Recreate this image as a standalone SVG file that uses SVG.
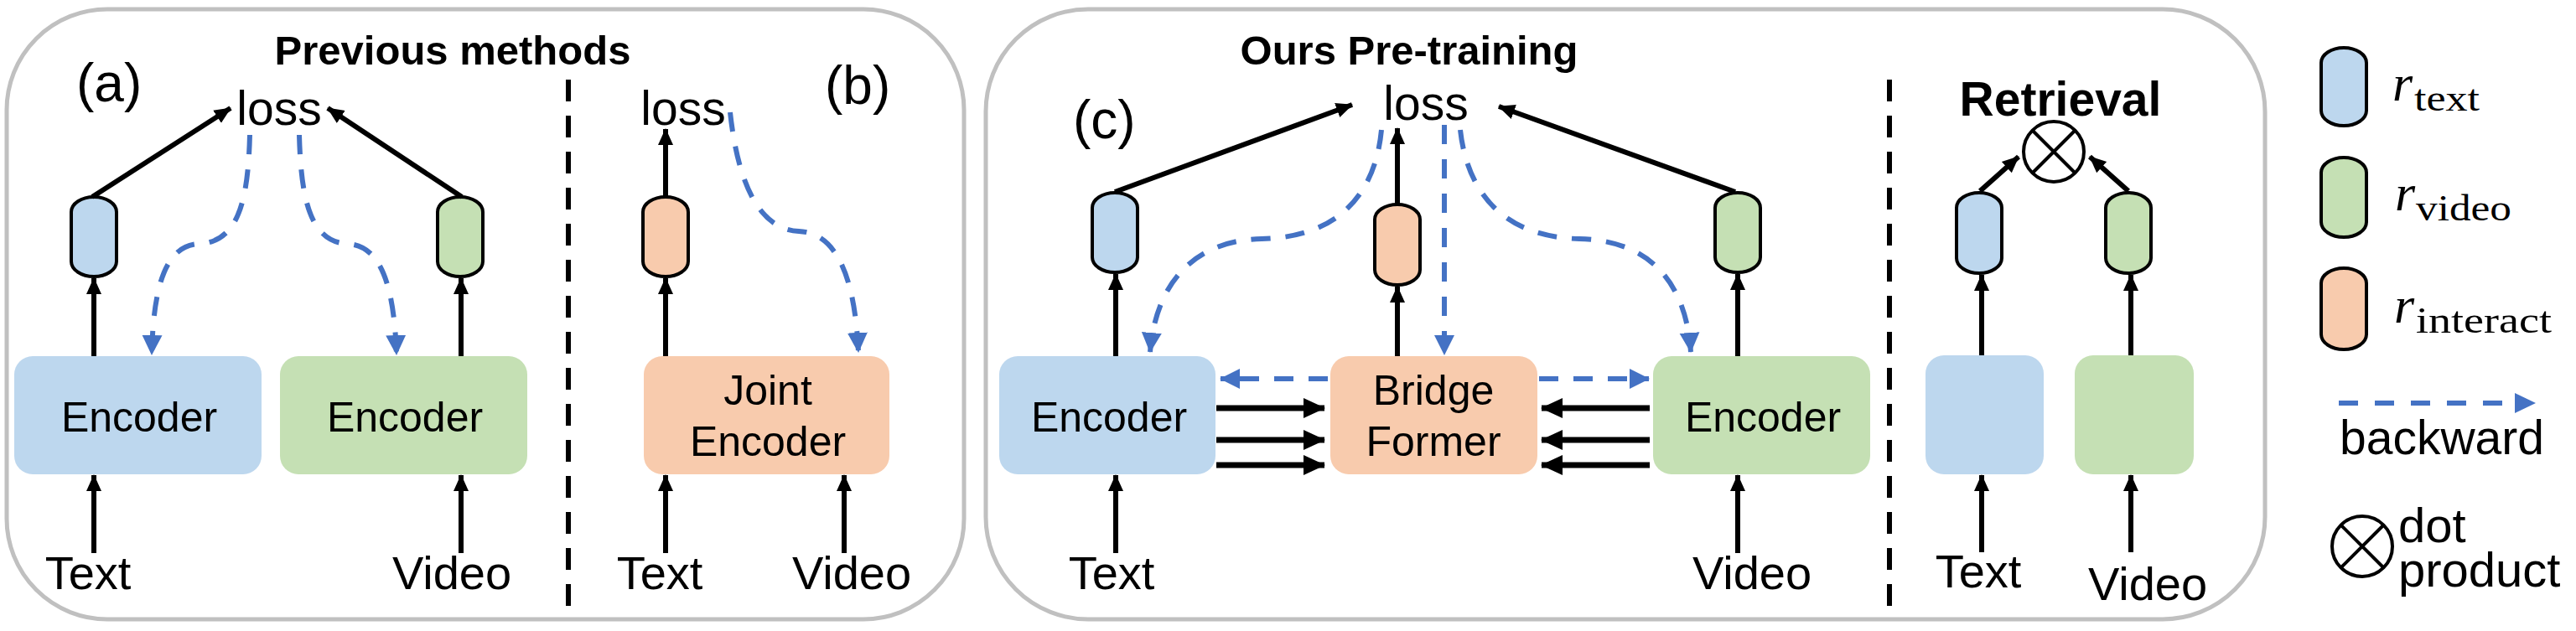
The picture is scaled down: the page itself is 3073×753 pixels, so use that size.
<svg xmlns="http://www.w3.org/2000/svg" width="3073" height="753" viewBox="0 0 3073 753">
<defs>
<marker id="ah" markerUnits="userSpaceOnUse" markerWidth="20" markerHeight="20" refX="19" refY="10" orient="auto"><path d="M0,1 L20,10 L0,19 z" fill="#000"/></marker>
<marker id="ahb" markerUnits="userSpaceOnUse" markerWidth="26" markerHeight="24" refX="25" refY="12" orient="auto"><path d="M0,0 L26,12 L0,24 z" fill="#000"/></marker>
<marker id="bh" markerUnits="userSpaceOnUse" markerWidth="24" markerHeight="26" refX="23" refY="13" orient="auto"><path d="M0,1 L24,13 L0,25 z" fill="#4472c4"/></marker>
</defs>
<style>
.frame{fill:#fff;stroke:#c0c0c0;stroke-width:5}
.bl{fill:#bdd7ee}.gr{fill:#c5e0b4}.or{fill:#f8cbad}
.cyl{stroke:#000;stroke-width:4}
.t{font-family:"Liberation Sans",Arial,sans-serif;fill:#000}
.lbl{font-size:50px;text-anchor:middle}
.io{font-size:56px;text-anchor:middle}
.loss{font-size:57px;text-anchor:middle}
.hd{font-size:49px;font-weight:bold;text-anchor:middle}
.tag{font-size:64px}
.ar{stroke:#000;stroke-width:6;fill:none;marker-end:url(#ah)}
.arb{stroke:#000;stroke-width:7;fill:none;marker-end:url(#ahb)}
.bk{stroke:#4472c4;stroke-width:6;fill:none;stroke-dasharray:23 18;marker-end:url(#bh)}
.div{stroke:#000;stroke-width:6;stroke-dasharray:26 17}
.ser{font-family:"Liberation Serif","DejaVu Serif",serif;fill:#000}
</style>
<rect class="frame" x="8" y="11" width="1142" height="728" rx="120"/>
<rect class="frame" x="1176" y="11" width="1526" height="728" rx="122"/>
<line class="div" x1="678" y1="95" x2="678" y2="737"/>
<line class="div" x1="2254" y1="95" x2="2254" y2="737"/>
<text class="t hd" x="540" y="77">Previous methods</text>
<text class="t hd" x="1681" y="77">Ours Pre-training</text>
<text class="t tag" x="91" y="121">(a)</text>
<text class="t tag" x="984" y="124">(b)</text>
<text class="t tag" x="1280" y="165">(c)</text>
<text class="t loss" x="333" y="149">loss</text>
<text class="t loss" x="815" y="149">loss</text>
<text class="t loss" x="1701" y="143">loss</text>
<text class="t" x="2458" y="138" style="font-size:57px;font-weight:bold;text-anchor:middle">Retrieval</text>

<g id="enc-a-text"><rect class="bl" x="17" y="425" width="295" height="141" rx="22"/><text class="t lbl" x="166" y="515">Encoder</text></g>
<g id="enc-a-video"><rect class="gr" x="334" y="425" width="295" height="141" rx="22"/><text class="t lbl" x="483" y="515">Encoder</text></g>
<g id="joint"><rect class="or" x="768" y="425" width="293" height="141" rx="22"/><text class="t lbl" x="916" y="483">Joint</text><text class="t lbl" x="916" y="544">Encoder</text></g>
<g id="enc-c-text"><rect class="bl" x="1192" y="425" width="258" height="141" rx="22"/><text class="t lbl" x="1323" y="515">Encoder</text></g>
<g id="bridge"><rect class="or" x="1587" y="425" width="247" height="141" rx="22"/><text class="t lbl" x="1710" y="483">Bridge</text><text class="t lbl" x="1710" y="544">Former</text></g>
<g id="enc-c-video"><rect class="gr" x="1972" y="425" width="259" height="141" rx="22"/><text class="t lbl" x="2103" y="515">Encoder</text></g>
<g id="ret-text"><rect class="bl" x="2297" y="424" width="141" height="142" rx="22"/></g>
<g id="ret-video"><rect class="gr" x="2475" y="424" width="142" height="142" rx="22"/></g>

<g id="cyl-a-t"><rect class="bl cyl" x="85" y="235" width="54" height="95" rx="27" ry="18"/></g>
<g id="cyl-a-v"><rect class="gr cyl" x="522" y="235" width="54" height="95" rx="27" ry="18"/></g>
<g id="cyl-b"><rect class="or cyl" x="767" y="235" width="54" height="95" rx="27" ry="18"/></g>
<g id="cyl-c-t"><rect class="bl cyl" x="1303" y="230" width="54" height="95" rx="27" ry="18"/></g>
<g id="cyl-c-i"><rect class="or cyl" x="1640" y="244" width="54" height="96" rx="27" ry="18"/></g>
<g id="cyl-c-v"><rect class="gr cyl" x="2046" y="230" width="54" height="95" rx="27" ry="18"/></g>
<g id="cyl-r-t"><rect class="bl cyl" x="2334" y="230" width="54" height="96" rx="27" ry="18"/></g>
<g id="cyl-r-v"><rect class="gr cyl" x="2512" y="230" width="54" height="96" rx="27" ry="18"/></g>
<g id="dot"><circle cx="2450" cy="181" r="36" fill="#fff" stroke="#000" stroke-width="4"/><path d="M2424.5,155.5 L2475.5,206.5 M2475.5,155.5 L2424.5,206.5" stroke="#000" stroke-width="4"/></g>

<g id="inputs">
<text class="t io" x="105" y="703">Text</text>
<text class="t io" x="539" y="703">Video</text>
<text class="t io" x="787" y="703">Text</text>
<text class="t io" x="1016" y="703">Video</text>
<text class="t io" x="1326" y="703">Text</text>
<text class="t io" x="2090" y="703">Video</text>
<text class="t io" x="2360" y="701">Text</text>
<text class="t io" x="2562" y="716">Video</text>
</g>

<g id="connectors">
<line class="ar" x1="112" y1="660" x2="112" y2="567"/>
<line class="ar" x1="112" y1="425" x2="112" y2="332"/>
<line class="ar" x1="110" y1="235" x2="275" y2="129"/>
<line class="ar" x1="550" y1="660" x2="550" y2="567"/>
<line class="ar" x1="550" y1="425" x2="550" y2="332"/>
<line class="ar" x1="551" y1="235" x2="391" y2="129"/>
<path class="bk" d="M298,161 C296,238 285,289 237,291 C200,293 183,335 181,423"/>
<path class="bk" d="M357,161 C359,238 370,289 415,291 C452,293 470,335 473,423"/>

<line class="ar" x1="794" y1="660" x2="794" y2="567"/>
<line class="ar" x1="1007" y1="660" x2="1007" y2="567"/>
<line class="ar" x1="794" y1="425" x2="794" y2="332"/>
<line class="ar" x1="794" y1="235" x2="794" y2="154"/>
<path class="bk" d="M871,134 C880,217 905,274 953,276 C1000,278 1020,335 1024,420"/>

<line class="ar" x1="1331" y1="660" x2="1331" y2="567"/>
<line class="ar" x1="1331" y1="425" x2="1331" y2="327"/>
<line class="ar" x1="1330" y1="229" x2="1613" y2="125"/>
<line class="ar" x1="1667" y1="425" x2="1667" y2="342"/>
<line class="ar" x1="1667" y1="244" x2="1667" y2="153"/>
<line class="ar" x1="2073" y1="660" x2="2073" y2="567"/>
<line class="ar" x1="2073" y1="425" x2="2073" y2="327"/>
<line class="ar" x1="2070" y1="229" x2="1788" y2="127"/>
<line class="arb" x1="1451" y1="487" x2="1580" y2="487"/>
<line class="arb" x1="1451" y1="525" x2="1580" y2="525"/>
<line class="arb" x1="1451" y1="555" x2="1580" y2="555"/>
<line class="arb" x1="1968" y1="487" x2="1839" y2="487"/>
<line class="arb" x1="1968" y1="525" x2="1839" y2="525"/>
<line class="arb" x1="1968" y1="555" x2="1839" y2="555"/>
<path class="bk" d="M1648,155 C1641,228 1600,283 1505,285 C1418,287 1378,345 1372,420"/>
<path class="bk" d="M1742,155 C1750,228 1792,283 1884,285 C1975,287 2012,345 2017,420"/>
<path class="bk" d="M1723,149 L1723,423"/>
<path class="bk" d="M1584,452 L1456,452"/>
<path class="bk" d="M1836,452 L1967,452"/>

<line class="ar" x1="2364" y1="659" x2="2364" y2="567"/>
<line class="ar" x1="2364" y1="424" x2="2364" y2="328"/>
<line class="ar" x1="2542" y1="659" x2="2542" y2="567"/>
<line class="ar" x1="2542" y1="424" x2="2542" y2="328"/>
<line class="ar" x1="2362" y1="228" x2="2408" y2="187"/>
<line class="ar" x1="2539" y1="228" x2="2493" y2="187"/>
</g>

<g id="legend">
<rect class="bl cyl" x="2769" y="57" width="54" height="93" rx="27" ry="18"/>
<rect class="gr cyl" x="2769" y="188" width="54" height="95" rx="27" ry="18"/>
<rect class="or cyl" x="2769" y="320" width="54" height="97" rx="27" ry="18"/>
<text class="ser" x="2854" y="120" style="font-size:62px;font-style:italic">r</text>
<text class="ser" x="2880" y="132" style="font-size:44px" textLength="78" lengthAdjust="spacingAndGlyphs">text</text>
<text class="ser" x="2857" y="251" style="font-size:62px;font-style:italic">r</text>
<text class="ser" x="2882" y="263" style="font-size:44px" textLength="114" lengthAdjust="spacingAndGlyphs">video</text>
<text class="ser" x="2856" y="385" style="font-size:62px;font-style:italic">r</text>
<text class="ser" x="2882" y="397" style="font-size:44px" textLength="162" lengthAdjust="spacingAndGlyphs">interact</text>
<path d="M2790,481 L3001,481" stroke="#4472c4" stroke-width="6" stroke-dasharray="23 20" fill="none"/>
<path d="M3000,469 L3025,481 L3000,493 z" fill="#4472c4"/>
<text class="t" x="2791" y="542" style="font-size:57px">backward</text>
<circle cx="2818" cy="652" r="36" fill="#fff" stroke="#000" stroke-width="4"/>
<path d="M2792.5,626.5 L2843.5,677.5 M2843.5,626.5 L2792.5,677.5" stroke="#000" stroke-width="4"/>
<text class="t" x="2861" y="647" style="font-size:58px">dot</text>
<text class="t" x="2861" y="700" style="font-size:58px">product</text>
</g>
</svg>
